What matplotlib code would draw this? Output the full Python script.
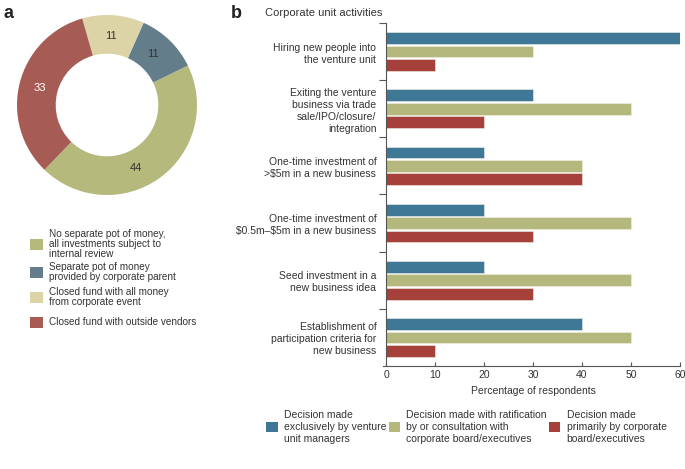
import matplotlib.pyplot as plt
import numpy as np
from matplotlib.patches import Patch, Rectangle

plt.rcParams['font.family'] = ['Liberation Sans', 'DejaVu Sans']
plt.rcParams['text.color'] = '#333333'
plt.rcParams['text.parse_math'] = False

# Data - panel a
pie_values = [44, 11, 11, 33]
pie_labels = ["No separate pot of money,\nall investments subject to\ninternal review",
              "Separate pot of money\nprovided by corporate parent",
              "Closed fund with all money\nfrom corporate event",
              "Closed fund with outside vendors"]
pie_colors = ["#b5b97c", "#647d8b", "#dcd3a6", "#a65c55"]
pie_text_colors = ["#333333", "#333333", "#333333", "white"]

# Data - panel b
activities = ["Hiring new people into\nthe venture unit",
              "Exiting the venture\nbusiness via trade\nsale/IPO/closure/\nintegration",
              "One-time investment of\n>$5m in a new business",
              "One-time investment of\n$0.5m\u2013$5m in a new business",
              "Seed investment in a\nnew business idea",
              "Establishment of\nparticipation criteria for\nnew business"]
venture_mgrs = [60, 30, 20, 20, 20, 40]
with_ratification = [30, 50, 40, 50, 50, 50]
corporate_board = [10, 20, 40, 30, 30, 10]
series_names = ["Decision made\nexclusively by venture\nunit managers",
                "Decision made with ratification\nby or consultation with\ncorporate board/executives",
                "Decision made\nprimarily by corporate\nboard/executives"]
bar_colors = ["#3f7796", "#b4b87c", "#a5413a"]

fig = plt.figure(figsize=(6.85, 4.69), dpi=100)
W, H = 685, 469

def px(x0, y0, x1, y1):
    return [x0 / W, 1 - y1 / H, (x1 - x0) / W, (y1 - y0) / H]

# Panel a: donut
ax1 = fig.add_axes(px(17, 15, 197, 195))
wedges, _ = ax1.pie(pie_values, colors=pie_colors, startangle=-134, counterclock=True,
                    radius=1.0, wedgeprops=dict(width=0.43, edgecolor='none'))
total = sum(pie_values)
label_shift = [-11, 2, 1, 0]
ang = -134
for v, tc, sh in zip(pie_values, pie_text_colors, label_shift):
    mid = np.deg2rad(ang + v / total * 360 / 2 + sh)
    r = 0.77
    ax1.text(r * np.cos(mid), r * np.sin(mid), str(v), ha='center', va='center',
             fontsize=8, color=tc)
    ang += v / total * 360
ax1.set_aspect('equal')
ax1.set_xlim(-1, 1)
ax1.set_ylim(-1, 1)

fig.text(4 / W, 1 - 13 / H, "a", fontsize=13, fontweight='bold', va='center', color='#222222')

# legend a, placed by hand
entry_y = [244, 272, 297, 322]
for c, lab, ey in zip(pie_colors, pie_labels, entry_y):
    fig.patches.append(Rectangle((30 / W, 1 - (ey + 5.5) / H), 13 / W, 11 / H,
                                 transform=fig.transFigure, facecolor=c, edgecolor='none'))
    fig.text(49 / W, 1 - ey / H, lab, fontsize=7.2, va='center', ha='left',
             linespacing=1.05, color='#333333')

# Panel b: grouped horizontal bars
ax2 = fig.add_axes(px(386, 23, 680, 366))
n = len(activities)
y = np.arange(n) + 0.5
h = 0.205
offs = [-0.235, 0.0, 0.235]
for vals, c, o in zip([venture_mgrs, with_ratification, corporate_board], bar_colors, offs):
    ax2.barh(y + o, vals, height=h, color=c, edgecolor='#f2efe6', linewidth=0.4)

ax2.set_ylim(n, 0)
ax2.set_xlim(0, 60)
ax2.set_yticks(y)
ax2.set_yticklabels(activities, fontsize=7.5, color='#333333', linespacing=1.25)
ax2.set_yticks(np.arange(n), minor=True)
ax2.tick_params(axis='y', which='major', length=0, pad=7)
ax2.tick_params(axis='y', which='minor', length=5, direction='out', color='#555555', width=0.8)
ax2.set_xticks(np.arange(0, 61, 10))
ax2.tick_params(axis='x', length=3, direction='in', color='#555555', width=0.8,
                labelsize=7.5, labelcolor='#333333', pad=3)
for s in ['top', 'right']:
    ax2.spines[s].set_visible(False)
for s in ['left', 'bottom']:
    ax2.spines[s].set_color('#555555')
    ax2.spines[s].set_linewidth(0.8)
ax2.spines['bottom'].set_bounds(-0.6, 60)
ax2.set_xlabel("Percentage of respondents", fontsize=7.5, color='#333333', labelpad=4)

fig.text(231 / W, 1 - 13 / H, "b", fontsize=13, fontweight='bold', va='center', color='#222222')
fig.text(265 / W, 1 - 13 / H, "Corporate unit activities", fontsize=8, va='center', color='#333333')

handles_b = [Patch(facecolor=c, edgecolor='none') for c in bar_colors]
fig.legend(handles_b, series_names, loc='upper left', bbox_to_anchor=(257 / W, 1 - 401 / H),
           ncol=3, frameon=False, fontsize=7.5, handlelength=1.1, handleheight=1.1,
           handletextpad=0.6, columnspacing=0.2, labelcolor='#333333')

plt.savefig("out.png", dpi=100)
